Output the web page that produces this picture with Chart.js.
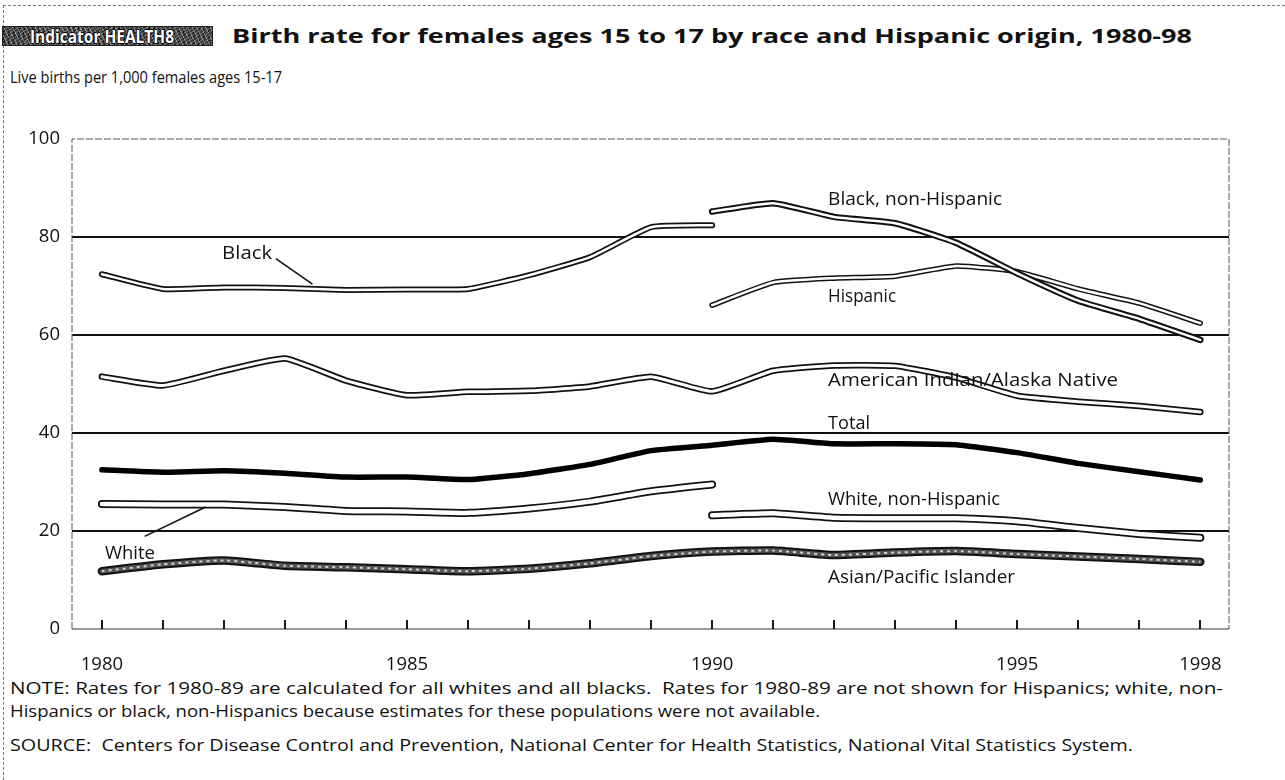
<!DOCTYPE html>
<html><head><meta charset="utf-8">
<script src="https://cdn.jsdelivr.net/npm/chart.js@4.4.0/dist/chart.umd.min.js"></script>
<style>
html,body{margin:0;padding:0;background:#fff;width:1285px;height:780px;overflow:hidden;font-family:'Open Sans',sans-serif;color:#111}
#frameTop{position:absolute;left:3px;top:5px;width:1282px;border-top:1px dashed #777}
#frameLeft{position:absolute;left:3px;top:5px;height:775px;border-left:1px dashed #777}
#badge{position:absolute;left:2px;top:26px;width:211px;height:20px;
 background:
  repeating-linear-gradient(63deg,rgba(255,255,255,.35) 0 1px,transparent 1px 4px),
  repeating-linear-gradient(-31deg,rgba(255,255,255,.25) 0 1px,transparent 1px 3px),
  repeating-linear-gradient(90deg,rgba(0,0,0,.5) 0 2px,transparent 2px 5px),
  #3c3c3c;border:1px solid #222;box-sizing:border-box}
#badge span{position:absolute;left:27px;top:-2px;line-height:22px;font-weight:700;font-size:18px;color:#fff;
 text-shadow:-1px 0 #000,1px 0 #000,0 -1px #000,0 1px #000;white-space:nowrap}
.txt{position:absolute;white-space:nowrap;line-height:24px;transform-origin:0 50%}
#title{left:232px;top:24px;font-weight:700;font-size:20px}
#ylab{left:10px;top:65px;font-size:16.5px}
.note{left:10px;font-size:17px}
#wrap{position:absolute;left:0;top:0;width:1285px;height:780px}
</style></head>
<body>
<div id="frameTop"></div><div id="frameLeft"></div>
<div id="badge"><span class="txt fit" data-w="144" style="position:absolute">Indicator HEALTH8</span></div>
<div id="title" class="txt fit" data-w="960">Birth rate for females ages 15 to 17 by race and Hispanic origin, 1980-98</div>
<div id="ylab" class="txt fit" data-w="272">Live births per 1,000 females ages 15-17</div>
<div class="txt note fit" style="top:676px" data-w="1213">NOTE: Rates for 1980-89 are calculated for all whites and all blacks.&nbsp; Rates for 1980-89 are not shown for Hispanics; white, non-</div>
<div class="txt note fit" style="top:699px" data-w="810">Hispanics or black, non-Hispanics because estimates for these populations were not available.</div>
<div class="txt note fit" style="top:733px" data-w="1123">SOURCE:&nbsp; Centers for Disease Control and Prevention, National Center for Health Statistics, National Vital Statistics System.</div>
<div id="wrap"><canvas id="c" width="1285" height="780"></canvas></div>
<script>
// ---- data ----
const yearsEarly = [1980,1981,1982,1983,1984,1985,1986,1987,1988,1989,1990];
const yearsLate = [1990,1991,1992,1993,1994,1995,1996,1997,1998];
const yearsAll = [1980,1981,1982,1983,1984,1985,1986,1987,1988,1989,1990,1991,1992,1993,1994,1995,1996,1997,1998];
const blackAll = [72.4,69.4,69.7,69.6,69.2,69.3,69.4,72.2,75.9,82.0,82.4];
const whiteAll = [25.5,25.4,25.4,24.9,24.1,24.0,23.7,24.6,26.0,28.1,29.5];
const blackNonHisp = [85.2,86.9,84.1,82.8,78.8,72.6,67.0,63.3,59.0];
const hispanic = [66.1,70.7,71.6,72.0,74.1,72.9,69.4,66.5,62.4];
const whiteNonHisp = [23.2,23.6,22.7,22.6,22.6,22.0,20.6,19.4,18.6];
const amIndian = [51.5,49.7,52.7,55.2,50.7,47.7,48.4,48.6,49.5,51.5,48.5,52.7,53.8,53.7,51.3,47.6,46.4,45.5,44.3];
const total = [32.5,32.0,32.3,31.8,31.0,31.0,30.5,31.7,33.6,36.4,37.5,38.7,37.8,37.8,37.6,36.0,33.8,32.1,30.4];
const asianPI = [11.8,13.2,14.0,12.9,12.6,12.2,11.8,12.3,13.4,14.9,15.8,16.0,15.1,15.6,15.9,15.3,14.8,14.3,13.7];
const xTickLabels = [1980,1985,1990,1995,1998];
const yTickLabels = [0,20,40,60,80,100];

const FONT = "'Open Sans', sans-serif";

// fit html text widths by horizontal scaling
document.querySelectorAll('.fit').forEach(el=>{
  const target = +el.dataset.w;
  const w = el.getBoundingClientRect().width;
  el.style.transform = 'scaleX('+(target/w).toFixed(4)+')';
});

function pts(xs, ys){ return xs.map((x,i)=>({x:x, y:ys[i]})); }

let ord = 100;
const datasets = [];
function doubleLine(xs, ys, outer, inner){
  datasets.push({data:pts(xs,ys), borderColor:'#111', borderWidth:outer, order:ord--});
  datasets.push({data:pts(xs,ys), borderColor:'#fff', borderWidth:inner, order:ord--});
}
doubleLine(yearsAll, amIndian, 6.5, 3);
doubleLine(yearsEarly, whiteAll, 8, 4.5);
doubleLine(yearsLate, whiteNonHisp, 8, 4.5);
// Asian/Pacific Islander textured
datasets.push({data:pts(yearsAll,asianPI), borderColor:'#111', borderWidth:8.5, order:ord--});
datasets.push({data:pts(yearsAll,asianPI), borderColor:'#555', borderWidth:4.5, order:ord--});
datasets.push({data:pts(yearsAll,asianPI), borderColor:'#cfcfcf', borderWidth:2, borderDash:[3,4], borderCapStyle:'butt', order:ord--});
datasets.push({data:pts(yearsAll,total), borderColor:'#000', borderWidth:5.5, order:ord--});
doubleLine(yearsEarly, blackAll, 6, 2.5);
doubleLine(yearsLate, hispanic, 5.5, 2.5);
doubleLine(yearsLate, blackNonHisp, 6.5, 2.5);

const annotations = [
  {t:'Black', x:1981.97, y:76.6, w:50},
  {t:'White', x:1980.05, y:15.4, w:50},
  {t:'Black, non-Hispanic', x:1991.9, y:87.6, w:174},
  {t:'Hispanic', x:1991.9, y:67.8, w:68},
  {t:'American Indian/Alaska Native', x:1991.9, y:50.6, w:290},
  {t:'Total', x:1991.9, y:41.8, w:42},
  {t:'White, non-Hispanic', x:1991.9, y:26.3, w:172},
  {t:'Asian/Pacific Islander', x:1991.9, y:10.4, w:187}
];
const leaders = [
  {x1:1982.85, y1:75.6, x2:1983.45, y2:70.4},
  {x1:1980.70, y1:18.9, x2:1981.70, y2:24.9}
];

const framePlugin = {
  id:'frame',
  beforeDatasetsDraw(chart){
    const {ctx, chartArea:a} = chart;
    ctx.save();
    ctx.strokeStyle='#555'; ctx.lineWidth=1; ctx.setLineDash([7,2]);
    ctx.beginPath();
    ctx.moveTo(a.left,a.bottom); ctx.lineTo(a.left,a.top); ctx.lineTo(a.right,a.top); ctx.lineTo(a.right,a.bottom);
    ctx.stroke();
    ctx.setLineDash([]);
    ctx.strokeStyle='#333'; ctx.lineWidth=1.2;
    ctx.beginPath(); ctx.moveTo(a.left,a.bottom); ctx.lineTo(a.right,a.bottom); ctx.stroke();
    const xs = chart.scales.x;
    ctx.strokeStyle='#000'; ctx.lineWidth=1.8;
    yearsAll.forEach(yr=>{
      const px = Math.round(xs.getPixelForValue(yr));
      ctx.beginPath(); ctx.moveTo(px,a.bottom); ctx.lineTo(px,a.bottom-9); ctx.stroke();
    });
    ctx.restore();
  },
  afterDatasetsDraw(chart){
    const {ctx} = chart; const xs=chart.scales.x, ys=chart.scales.y;
    ctx.save();
    ctx.fillStyle='#111'; ctx.textBaseline='middle'; ctx.textAlign='left';
    ctx.font = "18px "+FONT;
    annotations.forEach(an=>{
      const w = ctx.measureText(an.t).width;
      ctx.save();
      ctx.translate(xs.getPixelForValue(an.x), ys.getPixelForValue(an.y));
      ctx.scale(an.w/w, 1);
      ctx.fillText(an.t, 0, 0);
      ctx.restore();
    });
    ctx.strokeStyle='#111'; ctx.lineWidth=1.6;
    leaders.forEach(l=>{
      ctx.beginPath();
      ctx.moveTo(xs.getPixelForValue(l.x1), ys.getPixelForValue(l.y1));
      ctx.lineTo(xs.getPixelForValue(l.x2), ys.getPixelForValue(l.y2));
      ctx.stroke();
    });
    ctx.restore();
  }
};

new Chart(document.getElementById('c'), {
  type:'line',
  data:{datasets:datasets},
  options:{
    responsive:false, animation:false,
    layout:{padding:{left:0,top:139,right:56,bottom:101}},
    elements:{point:{radius:0,hoverRadius:0}, line:{tension:0.15, borderCapStyle:'round', borderJoinStyle:'round', fill:false}},
    plugins:{legend:{display:false}, tooltip:{enabled:false}},
    scales:{
      x:{type:'linear', min:1979.51, max:1998.47,
         afterBuildTicks:s=>{ s.ticks = xTickLabels.map(v=>({value:v})); },
         grid:{display:false}, border:{display:false},
         ticks:{padding:17, color:'#111', font:{family:FONT,size:18.5}, maxRotation:0, autoSkip:false, callback:v=>String(v)},
         afterFit:s=>{ s.height=50; }},
      y:{min:0, max:100,
         afterBuildTicks:s=>{ s.ticks = yTickLabels.map(v=>({value:v})); },
         grid:{color:c=> (c.tick && (c.tick.value===0 || c.tick.value===100)) ? 'rgba(0,0,0,0)' : '#111', lineWidth:2, drawTicks:false},
         border:{display:false},
         ticks:{padding:12, color:'#111', font:{family:FONT,size:18.5}},
         afterFit:s=>{ s.width=72; }}
    }
  },
  plugins:[framePlugin]
});
</script>
</body></html>
